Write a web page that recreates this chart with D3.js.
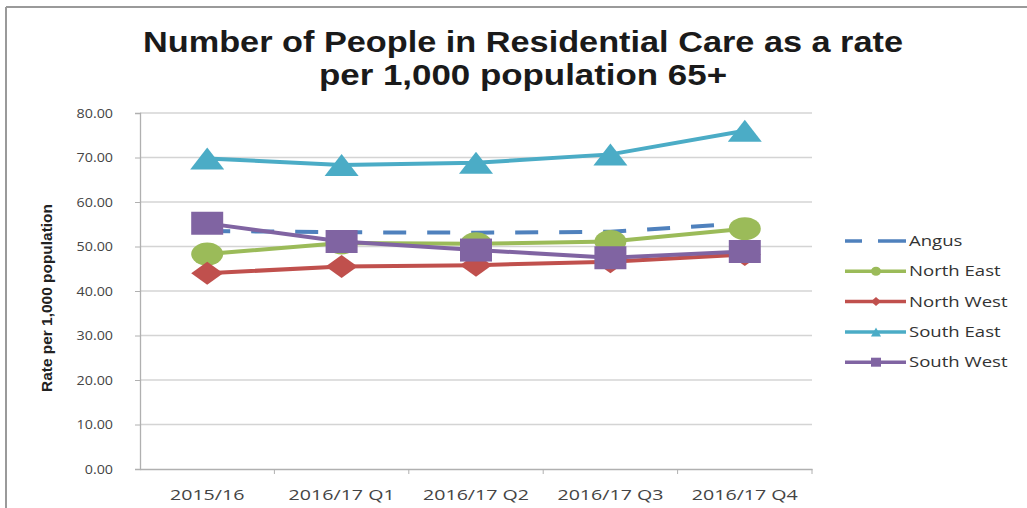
<!DOCTYPE html>
<html>
<head>
<meta charset="utf-8">
<script src="https://cdn.jsdelivr.net/npm/d3@7"></script>
<style>
  body { margin: 0; background: #fff; }
  svg { display: block; font-family: "Open Sans", "Liberation Sans", sans-serif; }
</style>
</head>
<body>
<div id="chart"></div>
<script>
// chart data
const categories = ["2015/16", "2016/17 Q1", "2016/17 Q2", "2016/17 Q3", "2016/17 Q4"];
const seriesNames = ["Angus", "North East", "North West", "South East", "South West"];
const angus = [53.5, 53.2, 53.1, 53.3, 55.2];
const northEast = [48.3, 50.8, 50.6, 51.1, 54.0];
const northWest = [44.0, 45.5, 45.8, 46.6, 48.2];
const southEast = [69.8, 68.3, 68.8, 70.7, 76.0];
const southWest = [55.2, 51.1, 49.2, 47.5, 48.9];
const yTicks = [0, 10, 20, 30, 40, 50, 60, 70, 80];

const series = [
  { name: seriesNames[0], values: angus, color: "#4F81BD", dash: "23,21", marker: null },
  { name: seriesNames[1], values: northEast, color: "#9BBB59", dash: null, marker: "circle" },
  { name: seriesNames[2], values: northWest, color: "#C0504D", dash: null, marker: "diamond" },
  { name: seriesNames[3], values: southEast, color: "#4BACC6", dash: null, marker: "triangle" },
  { name: seriesNames[4], values: southWest, color: "#8064A2", dash: null, marker: "square" }
];

const W = 1027, H = 508;
const svg = d3.select("#chart").append("svg").attr("width", W).attr("height", H);

// the source picture is stretched sideways, so texts get widened a bit
function widen(sel, k) {
  sel.each(function() {
    const len = this.getComputedTextLength();
    d3.select(this).attr("textLength", len * k).attr("lengthAdjust", "spacingAndGlyphs");
  });
}

// outer frame (top + left edges visible)
svg.append("line").attr("x1", 6).attr("x2", W).attr("y1", 7).attr("y2", 7)
  .attr("stroke", "#9a9a9a").attr("stroke-width", 2);
svg.append("line").attr("x1", 6).attr("x2", 6).attr("y1", 7).attr("y2", H)
  .attr("stroke", "#9a9a9a").attr("stroke-width", 2);

// title
const titleLines = ["Number of People in Residential Care as a rate", "per 1,000 population 65+"];
const titleWidths = [760, 408];
svg.append("g").selectAll("text").data(titleLines).join("text")
  .attr("x", 523).attr("y", (d, i) => 52 + i * 33)
  .attr("text-anchor", "middle")
  .style("font-family", "'Liberation Sans', Arial, sans-serif").style("font-weight", "bold")
  .style("font-size", "29px").attr("fill", "#1a1a1a")
  .attr("textLength", (d, i) => titleWidths[i]).attr("lengthAdjust", "spacingAndGlyphs")
  .text(d => d);

const plotL = 140, plotR = 812, plotT = 113, plotB = 469;

const x = d3.scaleBand().domain(categories).range([plotL, plotR]);
const y = d3.scaleLinear().domain([0, 80]).range([plotB, plotT]);

// gridlines
svg.append("g").selectAll("line").data(yTicks.filter(d => d > 0)).join("line")
  .attr("x1", plotL).attr("x2", plotR)
  .attr("y1", d => y(d)).attr("y2", d => y(d))
  .attr("stroke", "#d4d4d4").attr("stroke-width", 1.3);

// y axis
const yAxis = svg.append("g").attr("transform", `translate(${plotL},0)`)
  .call(d3.axisLeft(y).tickValues(yTicks).tickFormat(d3.format(".2f")).tickSize(5).tickPadding(22));
yAxis.select(".domain").attr("stroke", "#b0b0b0").attr("stroke-width", 1.3);
yAxis.selectAll(".tick line").attr("stroke", "#b0b0b0");
yAxis.selectAll("text").style("font-size", "13px").attr("fill", "#444")
  .style("font-family", "'Open Sans', sans-serif");
widen(yAxis.selectAll("text"), 1.1);

// x axis
const xAxis = svg.append("g").attr("transform", `translate(0,${plotB})`)
  .call(d3.axisBottom(x).tickSize(0).tickPadding(21));
xAxis.select(".domain").attr("stroke", "#b0b0b0").attr("stroke-width", 1.3);
xAxis.selectAll("text").style("font-size", "14px").attr("fill", "#444")
  .style("font-family", "'Open Sans', sans-serif");
widen(xAxis.selectAll("text"), 1.4);
// category boundary ticks
svg.append("g").selectAll("line").data(categories.slice(1).concat([null])).join("line")
  .attr("x1", d => d ? x(d) : plotR).attr("x2", d => d ? x(d) : plotR)
  .attr("y1", plotB).attr("y2", plotB + 5)
  .attr("stroke", "#b0b0b0");

// y axis title
svg.append("text")
  .attr("transform", "translate(52,298) rotate(-90)")
  .attr("text-anchor", "middle")
  .style("font-family", "'Liberation Sans Narrow', 'Liberation Sans', sans-serif")
  .style("font-weight", "bold").style("font-size", "14.5px").attr("fill", "#222")
  .attr("textLength", 188).attr("lengthAdjust", "spacingAndGlyphs")
  .text("Rate per 1,000 population");

const cx = c => x(c) + x.bandwidth() / 2;

function markerPath(type, w, h) {
  const a = w / 2, b = h / 2;
  if (type === "diamond") return `M0,${-b}L${a},0L0,${b}L${-a},0Z`;
  if (type === "triangle") return `M0,${-b}L${a},${b}L${-a},${b}Z`;
  if (type === "square") return `M${-a},${-b}H${a}V${b}H${-a}Z`;
  return null;
}

function drawMarker(g, type, color, px, py, w, h) {
  if (!type) return;
  if (type === "circle") {
    g.append("ellipse").attr("cx", px).attr("cy", py).attr("rx", w / 2).attr("ry", h / 2).attr("fill", color);
  } else {
    g.append("path").attr("transform", `translate(${px},${py})`)
      .attr("d", markerPath(type, w, h)).attr("fill", color);
  }
}

const line = d3.line().x((d, i) => cx(categories[i])).y(d => y(d));

series.forEach(s => {
  const g = svg.append("g");
  g.append("path").datum(s.values).attr("d", line)
    .attr("fill", "none").attr("stroke", s.color).attr("stroke-width", 4)
    .attr("stroke-dasharray", s.dash);
  s.values.forEach((v, i) => {
    const w = s.marker === "triangle" ? 34 : 32;
    const h = s.marker === "triangle" ? 22 : 23;
    drawMarker(g, s.marker, s.color, cx(categories[i]), y(v), w, h);
  });
});

// legend
const legend = svg.append("g");
series.forEach((s, i) => {
  const ly = 241 + i * 30.3;
  const g = legend.append("g");
  if (s.dash) {
    g.append("line").attr("x1", 845).attr("x2", 862).attr("y1", ly).attr("y2", ly)
      .attr("stroke", s.color).attr("stroke-width", 3.5);
    g.append("line").attr("x1", 878).attr("x2", 906).attr("y1", ly).attr("y2", ly)
      .attr("stroke", s.color).attr("stroke-width", 3.5);
  } else {
    g.append("line").attr("x1", 845).attr("x2", 906).attr("y1", ly).attr("y2", ly)
      .attr("stroke", s.color).attr("stroke-width", 3.5);
    drawMarker(g, s.marker, s.color, 876, ly, 10, 9);
  }
  const t = g.append("text").attr("x", 909).attr("y", ly + 5)
    .style("font-size", "14.5px").attr("fill", "#333")
    .style("font-family", "'Open Sans', sans-serif")
    .text(s.name);
  widen(t, 1.28);
});
</script>
</body>
</html>
